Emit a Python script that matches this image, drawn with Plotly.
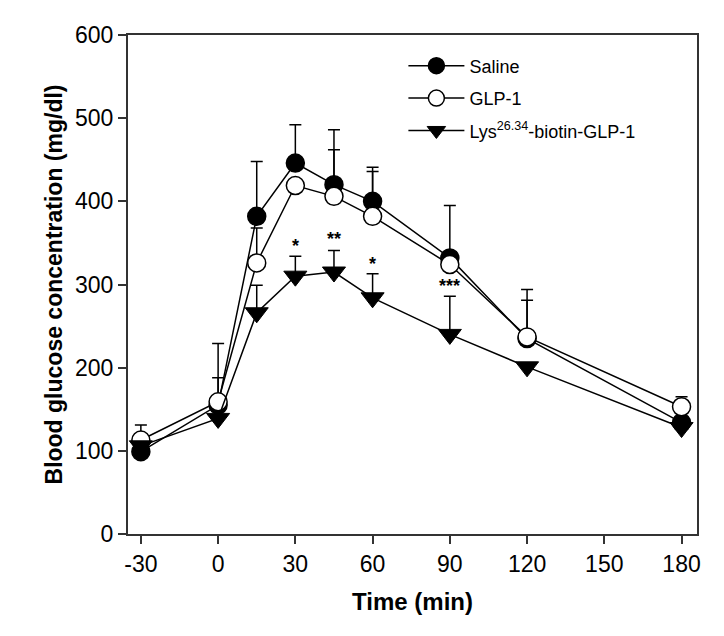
import plotly.graph_objects as go

times = [-30, 0, 15, 30, 45, 60, 90, 120, 180]
saline = [99, 155, 382, 446, 420, 400, 332, 235, 134]
saline_err = [None, 74, 66, 46, 66, 41, 63, 59, None]
glp1 = [113, 159, 326, 419, 406, 382, 324, 237, 153]
glp1_err = [18, 29, 42, None, 56, 54, None, 44, 12]
lys = [106, 139, 266, 310, 315, 284, 240, 201, 128]
lys_err = [None, None, 33, 24, 26, 29, 46, None, None]

star_x = [30, 45, 60, 90]
star_y = [346, 355, 325, 298]
star_txt = ["*", "**", "*", "***"]

x_ticks = [-30, 0, 30, 60, 90, 120, 150, 180]
x_labels = ["-30", "0", "30", "60", "90", "120", "150", "180"]
y_ticks = [0, 100, 200, 300, 400, 500, 600]

FONT = "Liberation Sans, Arial, Helvetica, sans-serif"

def zeros(a):
    return [0 if v is not None else None for v in a]

def err(a):
    return dict(type="data", symmetric=False, array=a, arrayminus=zeros(a),
                color="black", thickness=1.5, width=6)

fig = go.Figure()
fig.add_trace(go.Scatter(x=times, y=saline, name="Saline", mode="lines+markers",
                         legendgroup="a",
                         line=dict(color="black", width=1.5),
                         marker=dict(symbol="circle", size=18, color="black",
                                     line=dict(color="black", width=1.5)),
                         error_y=err(saline_err)))
fig.add_trace(go.Scatter(x=times, y=glp1, name="GLP-1", mode="lines+markers",
                         legendgroup="b",
                         line=dict(color="black", width=1.5),
                         marker=dict(symbol="circle", size=18, color="white",
                                     line=dict(color="black", width=1.5)),
                         error_y=err(glp1_err)))
fig.add_trace(go.Scatter(x=times, y=lys, name="Lys<sup>26.34</sup>-biotin-GLP-1",
                         mode="lines+markers", legendgroup="c",
                         line=dict(color="black", width=1.5),
                         marker=dict(symbol="triangle-down", size=20, color="black",
                                     line=dict(color="black", width=1)),
                         error_y=err(lys_err)))

for xs, ys, t in zip(star_x, star_y, star_txt):
    fig.add_annotation(x=xs, y=ys, text="<b>" + t + "</b>", showarrow=False,
                       font=dict(family=FONT, size=18, color="black"))

fig.update_layout(
    width=716, height=628,
    margin=dict(l=120, r=27, t=27, b=102),
    plot_bgcolor="white", paper_bgcolor="white",
    font=dict(family=FONT, color="black"),
    showlegend=True,
    legend=dict(x=0.484, y=0.975, xanchor="left", yanchor="top",
                bgcolor="rgba(0,0,0,0)", font=dict(size=18, color="black"),
                tracegroupgap=6, itemwidth=56),
    xaxis=dict(range=[-35, 186], tickvals=x_ticks, ticktext=x_labels,
               ticks="outside", ticklen=8, automargin=False,
               tickwidth=1.5, tickcolor="#333", showline=True, linecolor="#333",
               linewidth=2, mirror=True, showgrid=False, zeroline=False,
               tickfont=dict(size=23),
               title=dict(text="<b>Time (min)</b>", font=dict(size=24), standoff=18)),
    yaxis=dict(range=[0, 600], tickvals=y_ticks, ticks="outside", ticklen=8,
               automargin=False,
               tickwidth=1.5, tickcolor="#333", showline=True, linecolor="#333",
               linewidth=2, mirror=True, showgrid=False, zeroline=False,
               tickfont=dict(size=23),
               title=dict(text="<b>Blood glucose concentration (mg/dl)</b>",
                          font=dict(size=23), standoff=6)),
)

fig.write_html("out.html")
